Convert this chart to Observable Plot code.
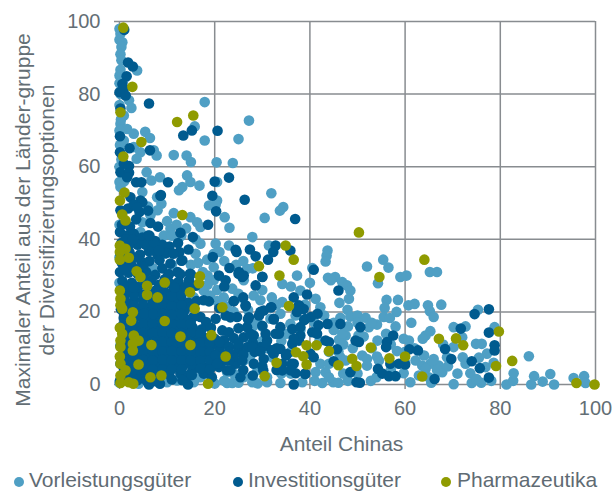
<!DOCTYPE html>
<html><head><meta charset="utf-8">
<script src="https://cdn.jsdelivr.net/npm/d3@7"></script>
<script src="https://cdn.jsdelivr.net/npm/@observablehq/plot@0.6"></script>
<style>
html,body{margin:0;padding:0;background:#fff;overflow:hidden;width:612px;height:491px}
svg{display:block}
#legend{position:relative;height:26px;font:21px "Liberation Sans",Arial,sans-serif;color:#5f6b73;overflow:hidden}
#legend span{position:absolute;top:3px;white-space:nowrap;line-height:24px}
#legend i{position:absolute;top:12px;width:10px;height:10px;border-radius:50%}
</style></head><body>
<div id="chart"></div>
<div id="legend"></div>
<script>
const seriesNames = ["Vorleistungsgüter", "Investitionsgüter", "Pharmazeutika"];
const seriesColors = ["#4f9fc4", "#005b8f", "#8f9b00"];
const xTicks = [0, 20, 40, 60, 80, 100];
const yTicks = [0, 20, 40, 60, 80, 100];
const xTitle = "Anteil Chinas";
const yTitle = "Maximaler Anteil aus der Länder-gruppe\nder Diversifizierungsoptionen";

const vorleistung = [
[0,98],[.2,96.6],[0,95],[.6,94.3],[.4,93],[.2,91],[.4,89.3],[.2,86.7],[3.7,86.5],[0,85.1],[.8,83.8],[2,78.3],[2.5,76.2],[17.9,77.8],[27.2,72.7],[.9,74.1],[.2,71.8],[1.6,70.4],[3,69.1],[5.4,69.6],[6.4,67.9],[15.8,71.1],[17.9,67.2],[25,67.6],[.9,67.2],[3,65.4],[4.4,64],[7.8,63.1],[7.2,64.5],[11.4,63.2],[14.1,63.1],[15,61.3],[20.4,61.2],[23.8,61],[3.6,62.2],[5.7,58.5],[6.7,56.2],[8.5,57.1],[14.2,57.6],[14.9,55.8],[16.8,54.8],[13.2,54.4],[12.5,53.5],[20.5,55.8],[31.9,52.7],[4.8,53],[7.9,51.6],[20.5,50.7],[.2,54.4],[0,55.8],[0,60],[.4,62],[.1,66],[0,70],[.3,73],[0,77],[.2,80],[0,83],[.5,58],[1,56],
[8.8,49.8],[18.8,49.3],[20.2,49.6],[34.4,48.9],[33.7,47.9],[30.5,45.9],[22.1,46.1],[23.1,43.2],[27.9,40.6],[11.4,47.2],[14.9,46.1],[16.3,44.7],[17,43.4],[10.7,42.9],[9.3,41],[4.8,44.7],[4.4,42],[6.5,46.6],[20.2,38.8],[23,38.3],[19.8,36],[18.4,34.4],[17,38.8],[31.4,38.3],[26.8,31.9],[26.1,28.7],[23.7,26.4],[34.2,27.7],[34.2,22.7],[19.8,32.3],[19.8,28.7],[17.7,25.9],[15.6,24],[21.9,24],[28.2,24.5],[29.6,23.2],[31.7,18.1],[33.8,19.5],[35.9,16.7],[26.8,13],[24.7,11.2],[32.1,7.5],[26.1,2],[22.6,.4],[23.7,.4],[27.9,.6],[33.8,.4],[26.1,6.6],[22.6,3.4],[17,2],[18.4,3],[10,.6],[12.1,1.1],[15.6,.6],[18.5,30],[20.5,26],[17.5,31],[12,44],[13,41],[8,37],[11,33],[7,32],[16,36],[22,34],[24,20],[28,16],[35,14],[37,19],[30,12],[36,3],[31,2],[25,.5],[20,.3],[6,.4],[4,.2],[0,.5],[0,28],[0,35],[0,44],
[18.5,27.5],[19,24.5],[20.5,23],[22.5,21.5],[25.5,24],[27,20.5],[29,17],[33,22],[30,16],[34,12],[36,9],[27.5,8],[31,10],[34,3],[29,4],[24,3],[22,1],[29,.3],[31,.6],[16,40],[14,43],[10,45],[8,48],[6,49],[11,41],[9.5,36],[15,33],[16.5,33.5],[24.5,33],[21,36.5],[26,34],[28,32],[30,26],[32,24],[25,25],[36,27],
[43.7,36.9],[43.5,35.5],[43.3,33.9],[40.5,32.1],[52,32.5],[55.4,34.4],[56.5,32.2],[59,29.6],[60.3,30],[65.2,31],[66.7,31],[37.3,30],[43.8,29.4],[45.3,29.6],[44.4,28.7],[46.8,28.2],[47.8,27.3],[48.5,25.9],[48.2,23.6],[46.2,22.5],[47.9,20.6],[46.4,18.4],[48.5,18.7],[50,19],[51.7,18.4],[54.3,27.9],[56.1,23.3],[58.5,23.3],[55.7,21.1],[58.2,20],[60.7,21.8],[62,22.2],[64.8,21.8],[65.2,20.2],[66,18.6],[67.6,22],[55.5,18.6],[56.8,18.3],[54.1,16.5],[52.4,15.8],[61.3,17],[38,25.9],[41.2,23.6],[42.2,21.3],[65.3,14.7],[64.3,13.5],[63.7,12.6],[70.2,15.8],[72.7,16],[75.3,20.6],[78.8,15.8],[74.9,11.2],[76.1,11.2],[77.2,8.5],[75.5,7.4],[70.2,10.3],[72.1,7.5],[72.7,5.7],[73.7,3.1],[76.9,4.8],[78.6,6],[78.1,1],[76,.5],[74,.4],[70.2,.1],[65.5,.5],[61.1,.6],[59.7,3.1],[58.3,9.2],[59.7,12.6],[60.8,12.1],[54.2,12.1],[51.3,13.2],[50.2,13.5],[47.5,13.5],[46.1,12.3],[46.8,14],[52,5.2],[54.1,7.7],[54.5,6.6],[52.8,1],[44.9,.6],[42.6,.4],[42.2,5.7],[41.2,3.4],[44,5.7],[43.3,3.4],[46.4,7.5],[47.5,6.6],[38.4,.6],[62.2,6.6],[63.6,5.2],[65.3,5.7],[64.3,4.3],[67.1,5.2],[67.8,3.4],[62.9,2.5],[66.7,4],[68.8,7.5],[81.3,0],[82.7,1],[82.8,3.1],[86,7.8],[87.1,2.3],[86.5,0],[88.9,.8],[90.5,2.9],[91.3,0],[95.4,1.8],[97.6,2.3],[97.9,.4],
[38,15],[42,12],[44,9],[41,17],[43,19],[45,15],[49,10],[51,8],[53,10],[56,14],[57,11],[60,9],[62,10],[64,8],[66,7],[68,11],[72,13],[44,2],[41,1],[47,3],[50,3],[54,2],[57,4],[60,6],[65,2],[69,5],[71,3],[75,1.5],[48,16],[50,17],[45,17],[53,17],[58,16],[39,22],[40,28],[47,11],[46,9],[52,7],[48,1],[46,.5]
];

const investition = [
[1,97.7],[1.8,88.7],[2.8,87.6],[1.5,84.9],[.6,82.8],[0,80.5],[1.3,79.6],[.9,81.5],[6.2,77.4],[.2,76],[13.4,68.6],[15.2,70],[20.6,69.9],[.1,68.4],[2.1,65.1],[.1,64],[6.4,64.5],[.9,60.8],[2,60.2],[.2,58.5],[2,58.3],[1.6,57.1],[3.5,55.7],[4.6,55.7],[10.2,55.7],[20,55.9],[23,57],[8.7,52.2],[19.5,52],[26.3,50.9],[2.3,51.6],[4.4,50.7],
[20.3,47.7],[36.9,45.6],[6.5,44.5],[8.1,43.5],[12.8,41.8],[15.4,40.6],[18.6,44],[12.3,39],[12.6,36.5],[13.2,34.2],[10.7,33.3],[24.4,37.1],[24.6,36.5],[27.4,37.2],[28.6,35.3],[32.8,38.3],[32.3,36.5],[31.2,34.4],[35.9,36.9],[19.6,35.1],[23.1,32.1],[25.1,31],[26.1,30],[30,29.6],[28.6,27.3],[20.9,30],[22.3,28.7],[14.8,30.5],[14.6,28.7],[36.6,24],[37.7,21.8],[24,22.9],[18.8,22.9],[17.7,23.2],[26.5,21.6],[31.9,21.3],[30.3,20.4],[29.3,19],[32.4,18.1],[33.8,15.8],[36.3,15.3],[38,15.8],[21.6,14.9],[23,14.4],[26.8,15.8],[24.7,18.6],[22.3,19],[17,18.6],[20.2,18.1],[28.2,13.5],[26.1,13],[33.5,14],[31,12.1],[29.6,10.3],[36.3,11.2],[37.7,12.1],[28.2,5.7],[30.3,7],[32.4,8.5],[34.2,5.7],[36.6,5.7],[24.4,5.7],[22.6,3.9],[20.9,4.8],[25.4,2],[36.6,0],[14.4,0],[8.5,.2],[6.2,0],[17.7,3],[15.3,3.9],[12.8,3],
[40.8,31.6],[46,25.9],[39.4,24.8],[38,21.3],[38.7,20.8],[37.3,20],[41.6,19.5],[40.2,18.6],[38.8,17.8],[43.7,16.7],[46.4,16.7],[41.8,16.3],[40.5,14.4],[41.5,14],[38,13.5],[36.6,12.6],[43.3,12.1],[44,11.7],[45.7,9.7],[49.6,12.1],[50.3,11.7],[50.6,15.8],[57.5,13.5],[56.2,11.7],[56,10.3],[60.9,9.7],[62.7,9.4],[68.4,9.8],[69.7,7],[74,6.4],[75.7,4.5],[77.6,1.9],[66.2,1.5],[71.7,15.4],[74.6,19.4],[77.6,20.7],[77.6,14.3],[78.8,10.8],[78.8,9.4],[60,5.5],[58.7,5.7],[56.9,5.7],[54.3,4.3],[55.2,3],[56.6,2.3],[58,2.3],[48.5,3.4],[49.8,.6],[50.5,.5],[45,6.4],[39,3],[37,3.1],[36.2,5.7],[40.8,7.5],[40.1,8.5],
[.2,48],[1.8,48.5],[3,49.5],[4.2,47.5],[.5,44],[2.2,43.5],[3.5,45.5],[.1,42],[1.5,41],[3,41.5],[4.8,40.5],[6,41],[7.5,39.5],[9,38.5],[10.5,38],[5.5,38.5],[3.8,38.5],[2,38.5],[.4,39],
[.2,36],[2.1,36.4],[4.3,35.8],[6.2,36.7],[8,35.6],[9.8,36.2],[11.3,36],[14.5,37.2],
[.5,33.5],[2.4,33.2],[4.6,33.8],[6.3,34],[8.4,34.2],[.1,31],[1.9,30.8],[3.8,30.5],[5.6,31],[7.5,30.2],[10.2,30],[12.2,31],[.6,28.5],[2.6,28],[4.7,27.6],[6.7,28.7],[8.3,27.5],[10.7,27.8],[12.4,28.3],[16,27.2],
[.2,26],[1.9,25.5],[3.8,25.8],[5.7,25.1],[7.6,25.9],[9.5,25.5],[11.3,25.7],[13.1,26],[1,23.4],[3,23],[4.9,23.3],[7,22.8],[8.8,23.4],[10.6,22.9],[12.5,23.3],[14.4,22.6],[16.2,23],
[.3,20.7],[2.2,20.5],[4.2,20.9],[6.1,20.2],[8,20.8],[9.9,20.4],[11.8,20.8],[13.6,20.2],[15.5,18.6],[.9,18.3],[2.9,18],[4.8,18.4],[6.7,17.8],[8.6,18.3],[10.5,17.9],[12.4,18.2],[14.2,17.8],[18.2,17.2],
[.3,15.8],[2,15.5],[4,15.9],[5.9,15.3],[7.8,15.7],[9.7,15.3],[11.6,15.7],[13.5,15.3],[15.4,15.6],[17.3,15.2],[19.2,15.6],[.9,13.3],[2.8,13],[4.7,13.4],[6.6,12.9],[8.5,13.2],[10.4,12.9],[12.3,13.3],[14.2,12.9],[16.1,13.3],[18,12.8],[20,12.6],[22,12.2],[24,12.8],
[.2,10.7],[2,10.4],[3.9,10.8],[5.8,10.2],[7.7,10.6],[9.6,10.3],[11.5,10.7],[13.4,10.2],[15.3,10.6],[17.2,10.2],[19.1,10.6],[21,10.1],[23,10.4],[25,9.8],[26.9,10.3],[28.4,9],[.9,8.2],[2.8,7.9],[4.7,8.3],[6.6,7.8],[8.5,8.1],[10.4,7.8],[12.3,8.2],[14.2,7.8],[16.1,8.1],[18,7.7],[20,8],[21.9,7.5],[24,7.8],[26,8.2],
[.2,5.7],[2,5.4],[3.9,5.8],[5.8,5.2],[7.7,5.6],[9.6,5.3],[11.5,5.7],[13.4,5.2],[15.3,5.6],[17.2,5.3],[19.1,5.7],[21.5,6.2],[.9,3],[2.8,2.8],[4.7,3.2],[6.6,2.7],[8.5,3.1],[10.4,2.8],[14.2,2.5],[19.4,2],[.1,1],[1.9,.9],[3.8,1.2],[5.7,1],[7.6,.9],[11,1.4],[13.2,1.2],
[1,16.8],[3,16.9],[5,16.8],[7,16.8],[9,16.8],[11,16.8],[13,16.7],[15,16.8],[1.2,22],[3,21.8],[5,21.9],[7,21.8],[9,21.9],[11,21.7],[13,21.8],[15.2,21.5],[1,24.5],[3,24.6],[5,24.5],[7,24.4],[9,24.5],[11,24.4],[13,24.5],[1,19.5],[3.2,19.4],[5.2,19.5],[7.1,19.4],[9,19.5],[11,19.3],[13,19.4],[1,14.3],[3,14.3],[5,14.3],[7,14.2],[9,14.3],[11,14.2],[13,14.2],[15,14.2],[17,14.1],[1,11.8],[3,11.8],[5,11.8],[7,11.7],[9,11.8],[11,11.7],[13,11.7],[15,11.7],[17,11.6],[19,11.6],[21,11.8],[1,9.2],[3,9.2],[5,9.2],[7,9.2],[9,9.1],[11,9.2],[13,9.1],[15,9.1],[17,9.1],[19,9],[21,9],[23,9],[1,6.8],[3,6.8],[5,6.8],[7,6.7],[9,6.8],[11,6.7],[13,6.7],[15,6.7],[17,6.6],[19,6.7],[21,6.6],[23,6.6],[1,4.2],[3,4.2],[5,4.2],[7,4.2],[9,4.1],[11,4.2],[13,4.2],[15.2,2.6],[17,4.4],[19,4.2],
[1,27],[3,26.7],[5,29],[9.5,29],[11.5,26.7],[14,27],[1,32],[3,32],[5,32.5],[9,32],[1,35],[3,35],[7,37],[1.2,40],[2.8,40],[26,24],[22,27],[21,21],[27,18],[25,15.5],[28,11.5],[33,10],[35,8],[30,5],[33,4],[26,4],[28,2.5],
[8.6,52],[6,47.9],[4.8,50.2],[3.7,48.8],[7.2,39.2],[6.3,41],[8.3,36.9],[13,34.1],[12.8,30.4],[10.4,30.4],[15,30.4],
[25,30.5],[25.8,29.6],[30,29.7],[24,23],[26.5,21.8],[23.3,18.5],[27.2,18.5],[29.6,20],[31.8,21.3],[32.4,17.9],[30,16.2],[27.5,14],[30.7,14],[32.8,14],[37.3,20.4],[39,18],[21,11.7],[25,11.2],[27.9,10.3],[30.7,10.7],[33.8,9.8],[25.8,6.6],[23.3,3.9],[30.2,3.9],[35.9,3.9],[39,2.9],[34.2,3.9],[35.2,8.4],[29.6,9.1],[32,9.4],[20.2,8],[20.5,5.7]
];

const pharma = [
[.8,98.3],[2.7,82],[.2,75],[12.1,72.3],[15.5,74.1],[4.6,66.8],[.8,62.8],[1.05,52.9],[.1,50.7],
[.56,46.8],[1.26,45.2],[13.2,46.7],[.07,38.3],[1.26,37.4],[.07,36.5],[1.96,34.9],[.07,34.4],[3.6,31.2],[4.4,29.6],[9.5,28.1],[16.9,29.8],[16.7,27.9],[5.8,27.2],[5.8,24.7],[8,24],[14.8,25.4],[.07,25.9],[.2,23.6],[.2,21.8],[.56,20.9],[2.8,19.9],[2.45,17.6],[9.5,17.5],[15.8,20.9],[21.6,21.3],[29.3,32.6],[34.9,38.3],[36.6,34.4],[33.6,30],[35.6,21.6],[.07,15.6],[.56,14],[.2,12.1],[.2,10.3],[3,13.5],[4,12.1],[2.8,11.2],[2.8,9.4],[6.7,10.9],[12.8,13.2],[14.9,10.9],[19.3,13.6],[22.3,7.7],[33,6],[37.1,8.9],[30.5,2.3],[.07,7.7],[.2,5.7],[4,5.5],[1.26,3.9],[.2,2.5],[.2,.4],[6.5,2],[8.8,2.5],[1.96,.6],[2.9,.2],[18.6,.2],
[50.3,41.9],[64.05,34.4],[54.6,29.6],[79.7,14.6],[67.1,12.6],[70.7,12.7],[72.2,10.8],[39.3,10.8],[41.4,10.8],[38.6,7.8],[39.3,5.5],[44,9.2],[46,5.3],[48.9,7.1],[49.8,5.1],[52.8,10.2],[56.7,7.2],[60,7.7],[63.6,2.2],[79.1,5.1],[82.5,6.5],[96,.4],[99.8,0]
];

const seriesData = [vorleistung, investition, pharma];
const gridColor = "#888c90";
const textColor = "#636e75";

const chart = Plot.plot({
  width: 612, height: 465,
  marginLeft: 119, marginRight: 17, marginTop: 21, marginBottom: 81,
  style: {fontFamily: '"Liberation Sans", Arial, sans-serif', background: "#fff", overflow: "visible"},
  x: {domain: [0, 100]},
  y: {domain: [0, 100]},
  marks: [
    Plot.ruleX(xTicks, {stroke: gridColor, strokeWidth: 1.5}),
    Plot.ruleY(yTicks, {stroke: gridColor, strokeWidth: 1.5}),
    Plot.axisX({ticks: xTicks, tickSize: 5, tickPadding: 11, tickFormat: d => d, stroke: gridColor, strokeWidth: 1.5, label: null, fontSize: 20, fill: textColor}),
    Plot.axisY({ticks: yTicks, tickSize: 5, tickPadding: 14, tickFormat: d => d, stroke: gridColor, strokeWidth: 1.5, label: null, fontSize: 20, fill: textColor}),
    ...seriesData.map((s, i) => Plot.dot(s, {x: d => d[0], y: d => d[1], r: 5.3, fill: seriesColors[i], stroke: "none"})),
    Plot.text([xTitle], {frameAnchor: "bottom", dx: -16, dy: 66, fontSize: 21, fill: textColor}),
    Plot.text([yTitle], {frameAnchor: "left", textAnchor: "middle", rotate: -90, dx: -85, dy: 17, fontSize: 21, fill: textColor, lineHeight: 1.14})
  ]
});
document.getElementById("chart").append(chart);

const legendDotX = [14, 233, 441];
const legendTextX = [29, 248, 457];
const legend = document.getElementById("legend");
seriesNames.forEach((n, i) => {
  const d = document.createElement("i");
  d.style.left = legendDotX[i] + "px";
  d.style.background = seriesColors[i];
  legend.append(d);
  const s = document.createElement("span");
  s.style.left = legendTextX[i] + "px";
  s.textContent = n;
  legend.append(s);
});
</script>
</body></html>
